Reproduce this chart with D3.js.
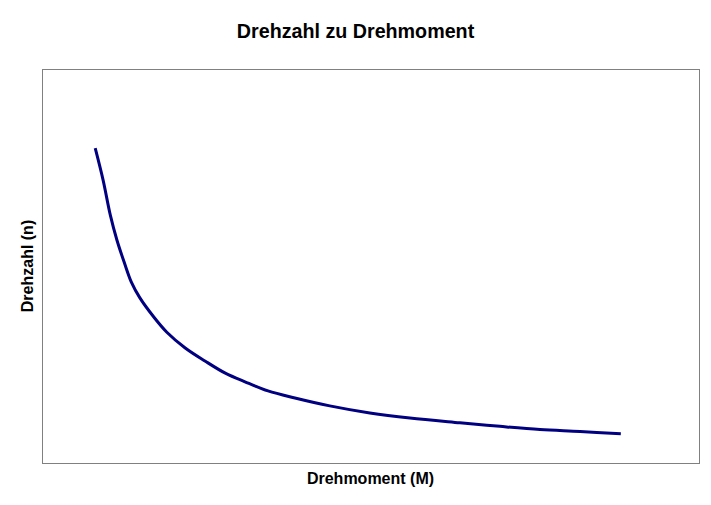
<!DOCTYPE html>
<html><head><meta charset="utf-8">
<script src="https://cdn.jsdelivr.net/npm/d3@7"></script>
<style>body{margin:0;background:#fff}</style>
</head><body>
<svg id="c" width="711" height="505"></svg>
<script>
const title = "Drehzahl zu Drehmoment";
const xLabel = "Drehmoment (M)";
const yLabel = "Drehzahl (n)";
const torque = [8.1, 9.3, 10.4, 11.4, 12.5, 13.6, 14.9, 16.9, 19.0, 21.8, 24.8, 27.9, 30.9, 34.4, 38.5, 43.8, 49.9, 56.0, 63.6, 69.7, 75.8, 81.9, 88.1];
const speed  = [79.9, 71.8, 62.9, 56.6, 51.0, 45.9, 41.9, 37.3, 33.2, 29.2, 25.9, 22.8, 20.6, 18.3, 16.5, 14.5, 12.7, 11.4, 10.2, 9.3, 8.5, 8.0, 7.4];

const svg = d3.select("#c");
const m = {l:42, r:12, t:69, b:42};
const W = 711, H = 505;
const x = d3.scaleLinear().domain([0,100]).range([m.l, W-m.r]);
const y = d3.scaleLinear().domain([0,100]).range([H-m.b, m.t]);

svg.append("rect").attr("x", m.l+0.5).attr("y", m.t+0.5)
  .attr("width", W-m.r-m.l).attr("height", H-m.b-m.t)
  .attr("fill","none").attr("stroke","#808080").attr("stroke-width",1);

const data = torque.map((d,i)=>[d, speed[i]]);
svg.append("path").datum(data)
  .attr("d", d3.line().x(d=>x(d[0])).y(d=>y(d[1])).curve(d3.curveCatmullRom))
  .attr("fill","none").attr("stroke","#000080").attr("stroke-width",3).attr("stroke-linejoin","round");

const font = "Liberation Sans, Arial, sans-serif";
svg.append("text").attr("x", 355.5).attr("y", 38).attr("text-anchor","middle")
  .attr("font-family",font).attr("font-weight","bold").attr("font-size",19.7)
  .text(title);
svg.append("text").attr("x", (m.l+W-m.r)/2).attr("y", 484).attr("text-anchor","middle")
  .attr("font-family",font).attr("font-weight","bold").attr("font-size",16)
  .text(xLabel);
svg.append("text").attr("transform", `translate(33,${(m.t+H-m.b)/2}) rotate(-90)`).attr("text-anchor","middle")
  .attr("font-family",font).attr("font-weight","bold").attr("font-size",16)
  .text(yLabel);
</script>
</body></html>
